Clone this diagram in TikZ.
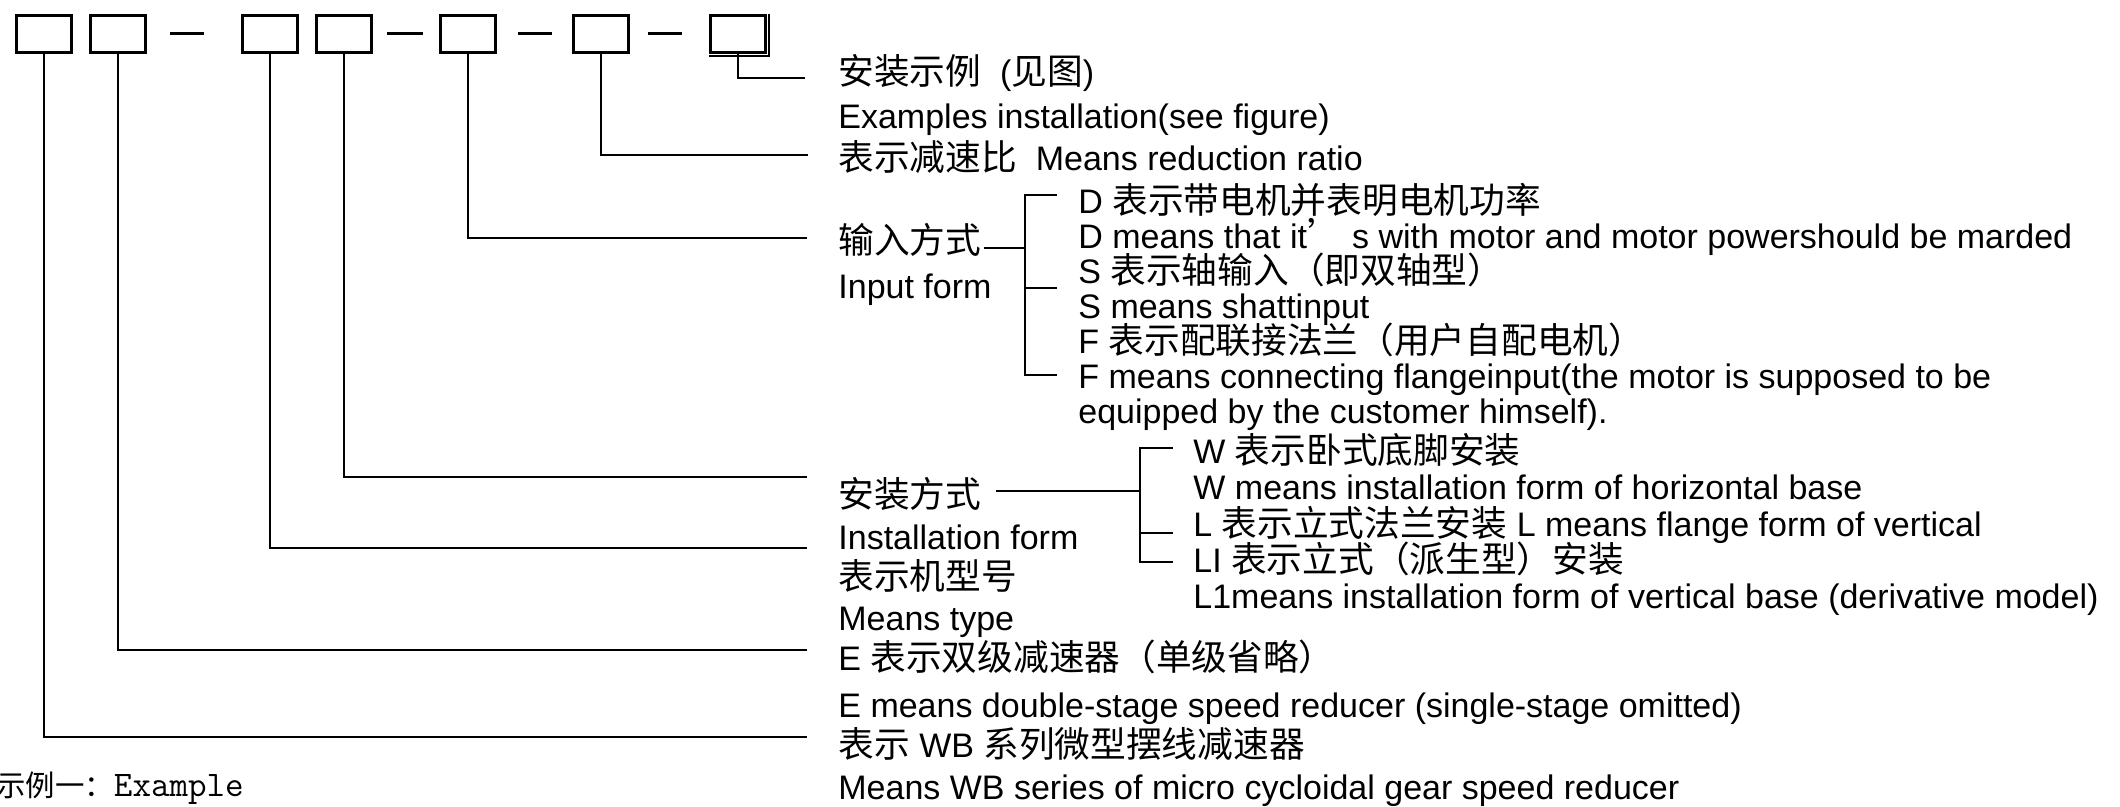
\documentclass[tikz,border=0pt]{standalone}
\usepackage{fontspec}
\setmainfont{Liberation Sans}
\newfontfamily\zhfont[Scale=1.05]{Noto Sans CJK SC}
\newcommand{\zh}[1]{{\zhfont #1}}
\usepackage{tikz}

\begin{document}
\begin{tikzpicture}[x=0.5pt,y=-0.5pt,
  codebox/.style={draw,line width=1.5pt,minimum width=27.5pt,minimum height=18.5pt,inner sep=0pt},
  hyph/.style={line width=1.5pt},
  conn/.style={line width=1pt},
  brk/.style={line width=1.2pt},
  lbl/.style={anchor=base west,inner sep=0pt,font=\fontsize{17}{20}\selectfont}]
\useasboundingbox (0,0) rectangle (2120,807);
\clip (0,0) rectangle (2120,807);

%Shape: code boxes
\node[codebox] (b1) at (44,34) {};
\node[codebox] (b2) at (118,34) {};
\node[codebox] (b3) at (270,34) {};
\node[codebox] (b4) at (344,34) {};
\node[codebox] (b5) at (468,34) {};
\node[codebox] (b6) at (601,34) {};
\node[codebox] (b7) at (738,34) {};
\draw[line width=1.2pt] ([shift={(2,0)}]b7.north east) -- ([shift={(2,2)}]b7.south east) -- ([shift={(0,2)}]b7.south west);
%Shape: hyphens
\draw[hyph] (170,34) -- (204,34);
\draw[hyph] (387,34) -- (423,34);
\draw[hyph] (518,34) -- (552,34);
\draw[hyph] (648,34) -- (682,34);

% Text Node
\node[lbl] (tfig) at (838,85) {\zh{安装示例}~~(\zh{见图})};
\node[lbl] (tfigen) at (838,129) {Examples installation(see figure)};
\node[lbl] (tratio) at (838,171) {\zh{表示减速比}~~Means reduction ratio};
\node[lbl] (tin) at (838,254) {\zh{输入方式}};
\node[lbl] (tinen) at (838,299) {Input form};
\node[lbl] (tmount) at (838,507) {\zh{安装方式}};
\node[lbl] (tmounten) at (838,549) {Installation form};
\node[lbl] (ttype) at (838,589) {\zh{表示机型号}};
\node[lbl] (ttypeen) at (838,630) {Means type};
\node[lbl] (tstage) at (838,670) {E \zh{表示双级减速器（单级省略）}};
\node[lbl] (tstageen) at (838,717) {E means double-stage speed reducer (single-stage omitted)};
\node[lbl] (tseries) at (838,757) {\zh{表示} WB \zh{系列微型摆线减速器}};
\node[lbl] (tseriesen) at (838,799) {Means WB series of micro cycloidal gear speed reducer};

% Text Node: input form choices
\node[lbl] (tD) at (1078,214) {D \zh{表示带电机并表明电机功率}};
\node[lbl] (tDen) at (1078,249) {D means that it\zh{’} s with motor and motor powershould be marded};
\node[lbl] (tS) at (1078,284) {S \zh{表示轴输入（即双轴型）}};
\node[lbl] (tSen) at (1078,319) {S means shattinput};
\node[lbl] (tF) at (1078,354) {F \zh{表示配联接法兰（用户自配电机）}};
\node[lbl] (tFen) at (1078,389) {F means connecting flangeinput(the motor is supposed to be};
\node[lbl] (tFen2) at (1078,424) {equipped by the customer himself).};

% Text Node: installation form choices
\node[lbl] (tW) at (1193,464) {W \zh{表示卧式底脚安装}};
\node[lbl] (tWen) at (1193,500) {W means installation form of horizontal base};
\node[lbl] (tL) at (1193,536) {L \zh{表示立式法兰安装} L means flange form of vertical};
\node[lbl] (tLI) at (1193,572) {LI \zh{表示立式（派生型）安装}};
\node[lbl] (tLIen) at (1193,608) {L1means installation form of vertical base (derivative model)};

% Text Node
\node[anchor=base west,inner sep=0pt] (texample) at (-4,796) {\fontsize{14}{16}\selectfont\zhfont 示例一：\fontsize{18}{20}\selectfont\ttfamily Example};

%Straight Lines: connectors
\coordinate (efig) at (805,78);
\coordinate (eratio) at (808,155);
\coordinate (ein) at (807,238);
\coordinate (emount) at (807,477);
\coordinate (etype) at (807,548);
\coordinate (estage) at (807,650);
\coordinate (eseries) at (807,737);
\draw[conn] (b7.south) |- (efig);
\draw[conn] (b6.south) |- (eratio);
\draw[conn] (b5.south) |- (ein);
\draw[conn] (b4.south) |- (emount);
\draw[conn] (b3.south) |- (etype);
\draw[conn] (b2.south) |- (estage);
\draw[conn] (b1.south) |- (eseries);

%Shape: brackets
\coordinate (jin) at (1025,248);
\draw[conn] (tin.base east) ++(2,-6) -- (jin);
\draw[brk] (1057,195) -- (1025,195) -- (1025,375) -- (1057,375);
\draw[brk] (1025,288) -- (1057,288);
\coordinate (jmount) at (1140,491);
\draw[conn] (tmount.base east) ++(14,-16) -- (jmount);
\draw[brk] (1173,448) -- (1140,448) -- (1140,562) -- (1173,562);
\draw[brk] (1140,533) -- (1173,533);

\end{tikzpicture}
\end{document}
